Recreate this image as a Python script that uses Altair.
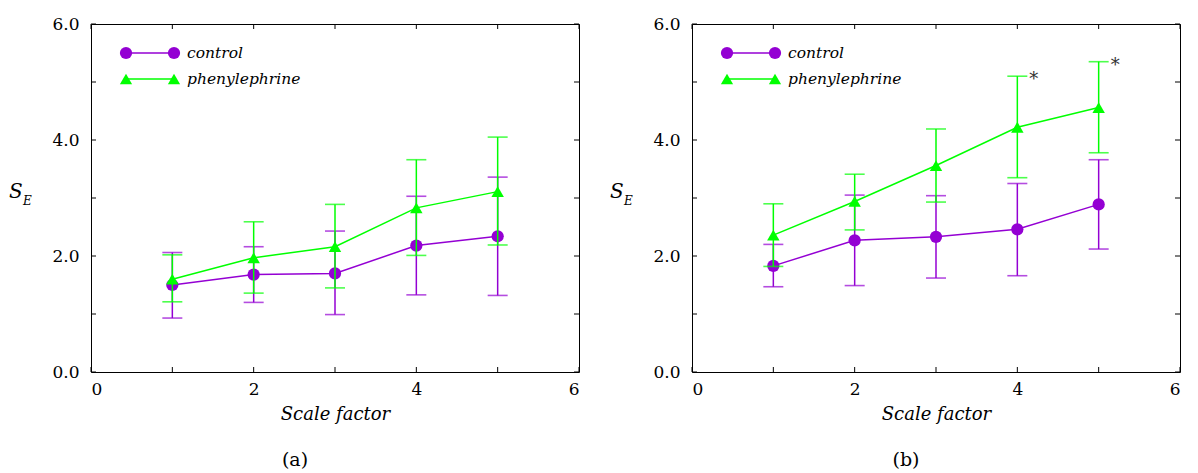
import altair as alt
import pandas as pd

# ---------------- data ----------------
x_vals = [1, 2, 3, 4, 5]
series_names = ["control", "phenylephrine"]
series_colors = ["#9400D3", "#00FF00"]

# panel (a)
a_ctrl = [1.50, 1.68, 1.70, 2.18, 2.34]
a_ctrl_lo = [0.93, 1.20, 0.99, 1.33, 1.32]
a_ctrl_hi = [2.06, 2.16, 2.43, 3.03, 3.36]
a_phe = [1.60, 1.97, 2.16, 2.83, 3.11]
a_phe_lo = [1.21, 1.36, 1.45, 2.01, 2.19]
a_phe_hi = [2.02, 2.59, 2.89, 3.66, 4.05]

# panel (b)
b_ctrl = [1.83, 2.27, 2.33, 2.46, 2.89]
b_ctrl_lo = [1.47, 1.49, 1.62, 1.66, 2.12]
b_ctrl_hi = [2.20, 3.05, 3.04, 3.25, 3.66]
b_phe = [2.36, 2.94, 3.56, 4.22, 4.56]
b_phe_lo = [1.82, 2.45, 2.93, 3.35, 3.78]
b_phe_hi = [2.90, 3.41, 4.19, 5.10, 5.35]
b_sig_x = [4, 5]  # asterisks on phenylephrine in (b)

x_tick_labels = [0, 2, 4, 6]
y_tick_labels = [0, 2, 4, 6]
x_minor = [0, 1, 2, 3, 4, 5, 6]
y_minor = [0, 1, 2, 3, 4, 5, 6]

FONT = "DejaVu Serif"
color_scale = alt.Scale(domain=series_names, range=series_colors)


def make_panel(ctrl, ctrl_lo, ctrl_hi, phe, phe_lo, phe_hi, W, H, caption, cap_dx, sig_x=None):
    rows = []
    for name, ys, los, his in [("control", ctrl, ctrl_lo, ctrl_hi),
                               ("phenylephrine", phe, phe_lo, phe_hi)]:
        for x, y, lo, hi in zip(x_vals, ys, los, his):
            rows.append({"series": name, "x": x, "y": y, "lo": lo, "hi": hi})
    df = pd.DataFrame(rows)

    xs = alt.Scale(domain=[0, 6], nice=False, zero=False)
    ys = alt.Scale(domain=[0, 6], nice=False, zero=False)
    xaxis = alt.Axis(values=x_tick_labels, format="d", title="Scale factor",
                     ticks=False, domain=False, grid=False, labelPadding=9,
                     titlePadding=8)
    yaxis = alt.Axis(values=y_tick_labels, format=".1f", title=None,
                     ticks=False, domain=False, grid=False, labelPadding=12)

    base = alt.Chart(df)
    layers = []
    for name, shape, size in [("control", "circle", 150), ("phenylephrine", "triangle-up", 155)]:
        sub = base.transform_filter(alt.datum.series == name)
        col = alt.Color("series:N", scale=color_scale, legend=None)
        layers.append(sub.mark_rule(strokeWidth=1.5).encode(
            x=alt.X("x:Q", scale=xs, axis=xaxis),
            y=alt.Y("lo:Q", scale=ys, axis=yaxis), y2="hi:Q", color=col))
        for f in ["lo", "hi"]:
            layers.append(sub.mark_tick(orient="horizontal", size=20, thickness=1.6).encode(
                x=alt.X("x:Q", scale=xs), y=alt.Y(f + ":Q", scale=ys), color=col))
        layers.append(sub.mark_line(strokeWidth=1.5).encode(
            x=alt.X("x:Q", scale=xs), y=alt.Y("y:Q", scale=ys), color=col))
        layers.append(sub.mark_point(shape=shape, size=size, filled=True, opacity=1).encode(
            x=alt.X("x:Q", scale=xs), y=alt.Y("y:Q", scale=ys), color=col))

    # inward minor/major ticks on all four sides
    xt = alt.Chart(pd.DataFrame({"t": x_minor}))
    yt = alt.Chart(pd.DataFrame({"t": y_minor}))
    tk = 5
    layers.append(xt.mark_rule(color="black", strokeWidth=1).encode(
        x=alt.X("t:Q", scale=xs), y=alt.value(H), y2=alt.value(H - tk)))
    layers.append(xt.mark_rule(color="black", strokeWidth=1).encode(
        x=alt.X("t:Q", scale=xs), y=alt.value(0), y2=alt.value(tk)))
    layers.append(yt.mark_rule(color="black", strokeWidth=1).encode(
        y=alt.Y("t:Q", scale=ys), x=alt.value(0), x2=alt.value(tk)))
    layers.append(yt.mark_rule(color="black", strokeWidth=1).encode(
        y=alt.Y("t:Q", scale=ys), x=alt.value(W), x2=alt.value(W - tk)))

    # in-plot legend
    for i, (name, shape, c) in enumerate([("control", "circle", series_colors[0]),
                                          ("phenylephrine", "triangle-up", series_colors[1])]):
        ly = 29 + 26 * i
        one = alt.Chart(pd.DataFrame({"label": [name]}))
        layers.append(one.mark_rule(color=c, strokeWidth=1.5).encode(
            x=alt.value(35), x2=alt.value(83), y=alt.value(ly)))
        for lx in [35, 83]:
            layers.append(one.mark_point(shape=shape, size=150, filled=True, opacity=1, color=c).encode(
                x=alt.value(lx), y=alt.value(ly)))
        layers.append(one.mark_text(font=FONT, fontSize=15.5, fontStyle="italic", align="left",
                                    baseline="middle", color="black").encode(
            x=alt.value(96), y=alt.value(ly), text="label:N"))

    # y title S_E
    lab = alt.Chart(pd.DataFrame({"s": ["S"], "e": ["E"], "cap": [caption]}))
    layers.append(lab.mark_text(font=FONT, fontSize=20, fontStyle="italic", align="left",
                                baseline="alphabetic", color="black").encode(
        x=alt.value(-82), y=alt.value(H / 2), text="s:N"))
    layers.append(lab.mark_text(font=FONT, fontSize=12, fontStyle="italic", align="left",
                                baseline="alphabetic", color="black").encode(
        x=alt.value(-68), y=alt.value(H / 2 + 7), text="e:N"))
    # sub-figure caption
    layers.append(lab.mark_text(font=FONT, fontSize=19, align="center",
                                baseline="middle", color="black").encode(
        x=alt.value(W / 2 + cap_dx), y=alt.value(H + 88), text="cap:N"))

    if sig_x:
        sdf = df[(df.series == "phenylephrine") & (df.x.isin(sig_x))].copy()
        sdf["star"] = "*"
        layers.append(alt.Chart(sdf).mark_text(font=FONT, fontSize=18, align="left",
                                               baseline="middle", dx=12, dy=4, color="#333333").encode(
            x=alt.X("x:Q", scale=xs), y=alt.Y("hi:Q", scale=ys), text="star:N"))

    return alt.layer(*layers).properties(width=W, height=H)


pa = make_panel(a_ctrl, a_ctrl_lo, a_ctrl_hi, a_phe, a_phe_lo, a_phe_hi, 488, 348, "(a)", -40)
pb = make_panel(b_ctrl, b_ctrl_lo, b_ctrl_hi, b_phe, b_phe_lo, b_phe_hi, 488, 348, "(b)", -30,
                sig_x=b_sig_x)

chart = alt.hconcat(pa, pb, spacing=29).properties(
    padding={"left": 0, "top": 6, "right": 0, "bottom": 0}
).configure_view(stroke="black", strokeWidth=1).configure_axis(
    labelFont=FONT, labelFontSize=17, labelColor="black",
    titleFont=FONT, titleFontSize=18, titleFontStyle="italic", titleFontWeight="normal",
    titleColor="black"
)

chart.save("out.html", embed_options={"renderer": "svg", "actions": False})
